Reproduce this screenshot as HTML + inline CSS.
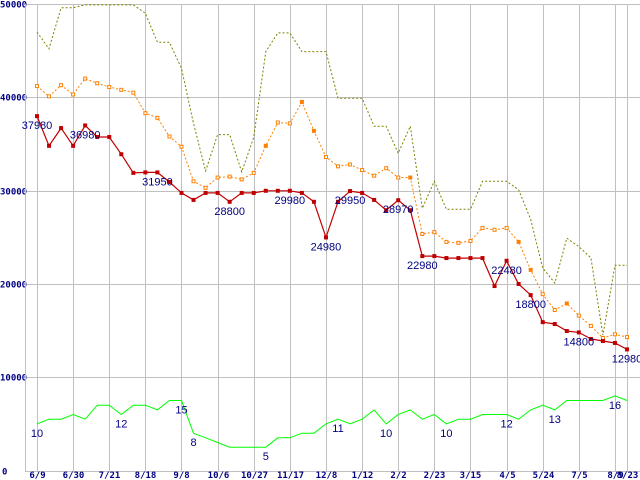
<!DOCTYPE html>
<html><head><meta charset="utf-8"><style>
html,body{margin:0;padding:0;background:#fff;width:640px;height:480px;overflow:hidden}
svg{display:block}
.tick{font-family:"DejaVu Sans Mono","Liberation Mono",monospace;font-size:9px;font-weight:bold;fill:#000080}
.lbl{font-family:"Liberation Sans","DejaVu Sans",sans-serif;font-size:11px;fill:#000080}
</style></head><body>
<svg id="chart" width="640" height="480" xmlns="http://www.w3.org/2000/svg">
<g id="grid"></g>
<g id="series"></g>
<g id="labels"></g>
</svg>
<script>
const xTickLabels = ["6/9","6/30","7/21","8/18","9/8","10/6","10/27","11/17","12/8","1/12","2/2","2/23","3/15","4/5","5/24","7/5","8/9","8/23"];
const xTickIdx = [0,3,6,9,12,15,18,21,24,27,30,33,36,39,42,45,48,49];
const yTicks = [0,10000,20000,30000,40000,50000];
const lowPrice = [37980,34800,36700,34800,36980,35750,35750,33900,31900,31950,31950,30920,29750,29000,29750,29750,28800,29750,29750,29980,29980,29980,29750,28800,24980,28800,29950,29750,29000,27900,28970,27900,22980,22980,22770,22770,22770,22770,19770,22480,19990,18800,15900,15700,14950,14800,14100,13880,13670,12980];
const avgPrice = [41200,40100,41300,40300,42000,41500,41100,40800,40500,38300,37800,35800,34700,31000,30300,31400,31500,31200,31900,34800,37300,37200,39500,36400,33600,32600,32800,32200,31600,32400,31400,31400,25350,25550,24500,24400,24600,26000,25800,26000,24500,21500,18900,17200,17900,16600,15500,14200,14600,14300];
const highPrice = [47000,45200,49600,49600,49900,49900,49900,49900,49900,49000,45900,45900,43100,37200,32100,36000,36000,32000,35700,44900,46900,46900,44900,44900,44900,39900,39900,39900,36900,36900,34000,36900,28100,31000,28000,28000,28000,31000,31000,31000,30100,26900,21700,20100,24900,24000,22800,14500,22000,22000];
const shopCount = [10,11,11,12,11,14,14,12,14,14,13,15,15,8,7,6,5,5,5,5,7,7,8,8,10,11,10,11,13,10,12,13,11,12,10,11,11,12,12,12,11,13,14,13,15,15,15,15,16,15];
const lowLabelIdx = [0,4,10,16,21,24,26,30,32,39,41,45,49];
const countLabelIdx = [0,7,12,13,19,25,29,34,39,43,48];
const avgFilledIdx = [19,22,23,31,40,41,44];

const NS="http://www.w3.org/2000/svg";
const X0=37, DX=590/49, Y0=470.5, YS=466.5/50000, CS=500;
const xs=i=>X0+DX*i;
const ys=v=>Y0-v*YS;
function mk(tag,attrs,parent){const e=document.createElementNS(NS,tag);for(const k in attrs)e.setAttribute(k,attrs[k]);parent.appendChild(e);return e;}
const grid=document.getElementById('grid'), ser=document.getElementById('series'), lab=document.getElementById('labels');

yTicks.forEach(v=>{
  const y=Math.round(ys(v))+0.5;
  const l=mk('line',{x1:25,x2:640,y1:y,y2:y,stroke:'#c0c0c0','stroke-width':1},grid);
  
  
  const t=mk('text',{x:v===0?2:0,y:y+3,class:'tick'},grid);
  t.textContent=String(v);
  
  
});
const ax=mk('line',{x1:25.5,x2:25.5,y1:4,y2:471,stroke:'#c0c0c0','stroke-width':1},grid);


xTickIdx.forEach((i,k)=>{
  const x=Math.round(xs(i))+0.5;
  const l=mk('line',{x1:x,x2:x,y1:4,y2:471,stroke:'#c0c0c0','stroke-width':1},grid);
  
  
  const t=mk('text',{x:x,y:478,class:'tick','text-anchor':'middle'},grid);
  t.textContent=xTickLabels[k];
  
  
});

function pts(arr,f){return arr.map((v,i)=>xs(i).toFixed(1)+','+f(v).toFixed(1)).join(' ');}
const hi=mk('polyline',{points:pts(highPrice,ys),fill:'none',stroke:'#808000','stroke-width':1,'stroke-dasharray':'2,2'},ser);


const av=mk('polyline',{points:pts(avgPrice,ys),fill:'none',stroke:'#ff8000','stroke-width':1,'stroke-dasharray':'2,2'},ser);


avgPrice.forEach((v,i)=>{
  const filled=avgFilledIdx.indexOf(i)>=0;
  const r=mk('rect',{x:xs(i)-1.5,y:ys(v)-1.5,width:3,height:3,fill:filled?'#ff8000':'#fff',stroke:'#ff8000','stroke-width':1},ser);
  
  
});
const gc=mk('polyline',{points:pts(shopCount,v=>Y0-v*CS*YS),fill:'none',stroke:'#00ff00','stroke-width':1},ser);


const lo=mk('polyline',{points:pts(lowPrice,ys),fill:'none',stroke:'#c00000','stroke-width':1.2},ser);


lowPrice.forEach((v,i)=>{
  const r=mk('rect',{x:xs(i)-2,y:ys(v)-2,width:4,height:4,fill:'#c00000'},ser);
  
  
});
lowLabelIdx.forEach(i=>{
  const t=mk('text',{x:xs(i),y:ys(lowPrice[i])+13,class:'lbl','text-anchor':'middle'},lab);
  t.textContent=String(lowPrice[i]);
  
  
});
countLabelIdx.forEach(i=>{
  const t=mk('text',{x:xs(i),y:Y0-shopCount[i]*CS*YS+13,class:'lbl','text-anchor':'middle'},lab);
  t.textContent=String(shopCount[i]);
  
  
});
</script>
</body></html>
